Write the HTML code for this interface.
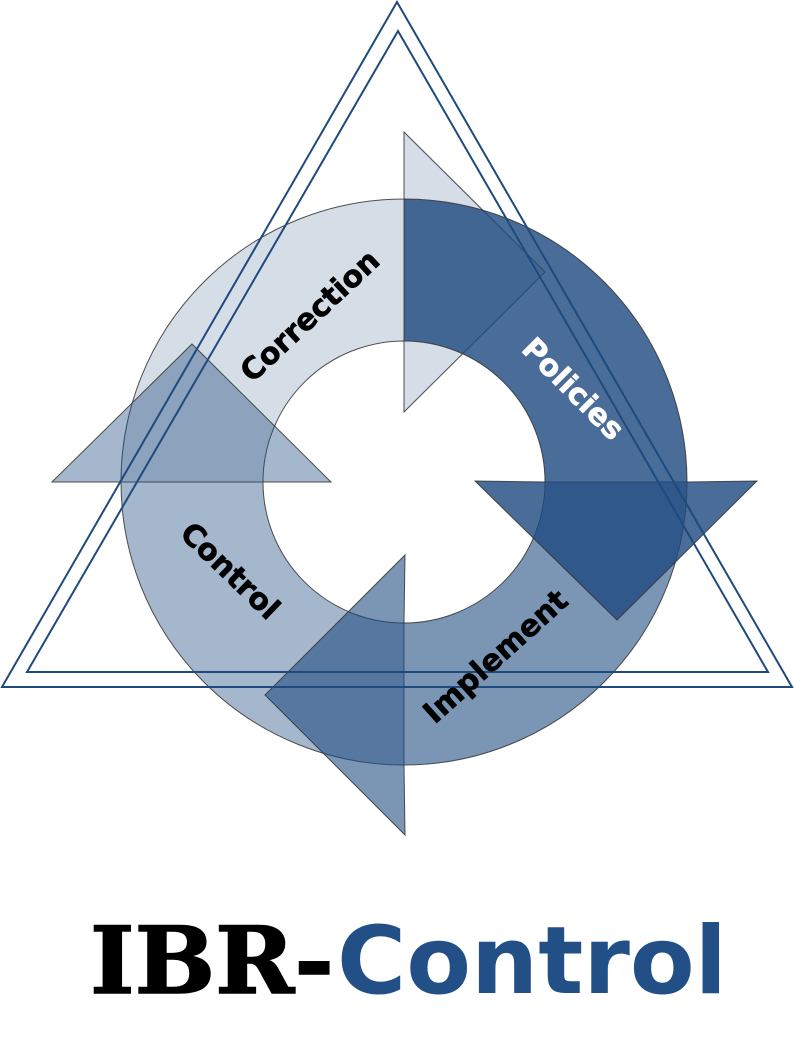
<!DOCTYPE html>
<html>
<head>
<meta charset="utf-8">
<style>
  html, body { margin: 0; padding: 0; background: #ffffff; }
  svg { display: block; }
</style>
</head>
<body>
<svg width="794" height="1044" viewBox="0 0 794 1044" xmlns="http://www.w3.org/2000/svg">
  <rect x="0" y="0" width="794" height="1044" fill="#ffffff"/>

  <g stroke="#333333" stroke-width="1" stroke-opacity="0.85">
    <!-- Correction (light) -->
    <path d="M 121 482 A 283 283 0 0 1 404 199 L 404 132 L 545 272 L 404 412 L 404 341 A 141 141 0 0 0 263 482 Z"
          fill="rgb(31,74,128)" fill-opacity="0.19"/>
    <!-- Control -->
    <path d="M 404 765 A 283 283 0 0 1 121 482 L 52 482 L 192 344 L 331 482 L 263 482 A 141 141 0 0 0 404 623 Z"
          fill="rgb(31,74,128)" fill-opacity="0.40"/>
    <!-- Implement -->
    <path d="M 687 482 A 283 283 0 0 1 404 765 L 405 835 L 265 695 L 405 555 L 404 623 A 141 141 0 0 0 545 482 Z"
          fill="rgb(31,74,128)" fill-opacity="0.59"/>
    <!-- Policies (dark) -->
    <path d="M 404 199 A 283 283 0 0 1 687 482 L 757 481 L 617 620 L 475 481 L 545 482 A 141 141 0 0 0 404 341 Z"
          fill="rgb(31,74,128)" fill-opacity="0.81"/>
  </g>

  <!-- Triangles -->
  <g fill="none" stroke="#1f4a7e" stroke-width="2" stroke-linejoin="miter">
    <path d="M 397 2 L 792 687 L 2 687 Z"/>
    <path d="M 398 31 L 768 672 L 27 672 Z"/>
  </g>

  <!-- Ring labels -->
  <g font-family="'DejaVu Sans', Verdana, 'Liberation Sans', sans-serif" font-weight="bold" font-size="30" text-anchor="middle" stroke-width="0.6">
    <text transform="translate(310,316) rotate(-43)" x="0" y="10" fill="#000000" stroke="#000000">Correction</text>
    <text transform="translate(573,389) rotate(45)" x="0" y="10" fill="#ffffff" stroke="#ffffff">Policies</text>
    <text transform="translate(497,658) rotate(-42)" x="0" y="8" fill="#000000" stroke="#000000">Implement</text>
    <text transform="translate(230,571) rotate(44)" x="0" y="10" fill="#000000" stroke="#000000">Control</text>
  </g>

  <!-- Title -->
  <text x="90" y="993" font-family="'DejaVu Serif', 'Liberation Serif', serif" font-weight="bold"
        font-size="93" fill="#000000" stroke="#000000" stroke-width="1.5"
        textLength="244" lengthAdjust="spacingAndGlyphs">IBR-</text>
  <text x="337" y="993" font-family="'DejaVu Sans', Verdana, 'Liberation Sans', sans-serif" font-weight="bold"
        font-size="94" fill="#214f86" textLength="390" lengthAdjust="spacingAndGlyphs">Control</text>
</svg>
</body>
</html>
